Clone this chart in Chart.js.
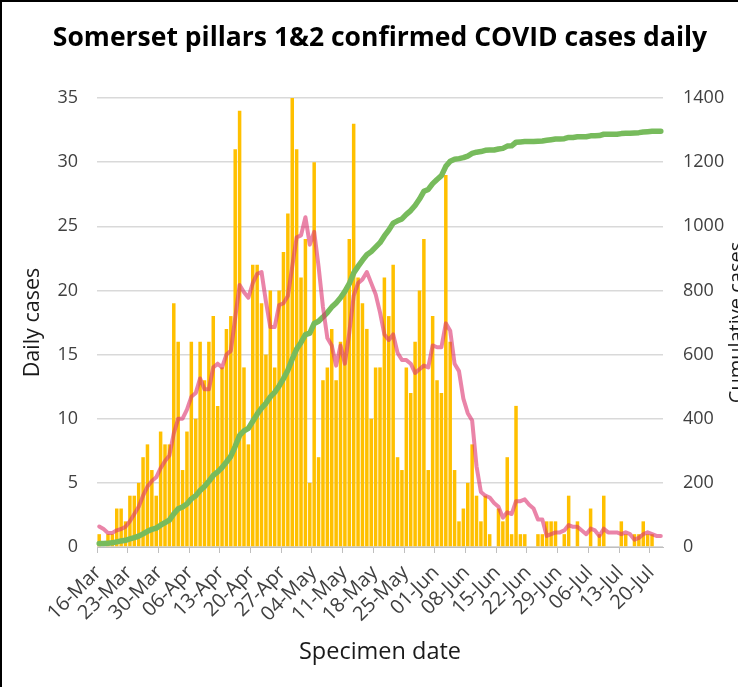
<!DOCTYPE html>
<html>
<head>
<meta charset="utf-8">
<script src="https://cdn.jsdelivr.net/npm/chart.js@4/dist/chart.umd.min.js"></script>
<style>
html,body{margin:0;padding:0;background:#fff;}
canvas{display:block;}
</style>
</head>
<body>
<canvas id="c" width="738" height="687"></canvas>
<script>
const chartTitle = 'Somerset pillars 1&2 confirmed COVID cases daily';
const xTitle = 'Specimen date';
const yTitle = 'Daily cases';
const y2Title = 'Cumulative cases';

const categories = [
'16-Mar','17-Mar','18-Mar','19-Mar','20-Mar','21-Mar','22-Mar','23-Mar','24-Mar','25-Mar','26-Mar','27-Mar','28-Mar','29-Mar','30-Mar','31-Mar',
'01-Apr','02-Apr','03-Apr','04-Apr','05-Apr','06-Apr','07-Apr','08-Apr','09-Apr','10-Apr','11-Apr','12-Apr','13-Apr','14-Apr','15-Apr','16-Apr','17-Apr','18-Apr','19-Apr','20-Apr','21-Apr','22-Apr','23-Apr','24-Apr','25-Apr','26-Apr','27-Apr','28-Apr','29-Apr','30-Apr',
'01-May','02-May','03-May','04-May','05-May','06-May','07-May','08-May','09-May','10-May','11-May','12-May','13-May','14-May','15-May','16-May','17-May','18-May','19-May','20-May','21-May','22-May','23-May','24-May','25-May','26-May','27-May','28-May','29-May','30-May','31-May',
'01-Jun','02-Jun','03-Jun','04-Jun','05-Jun','06-Jun','07-Jun','08-Jun','09-Jun','10-Jun','11-Jun','12-Jun','13-Jun','14-Jun','15-Jun','16-Jun','17-Jun','18-Jun','19-Jun','20-Jun','21-Jun','22-Jun','23-Jun','24-Jun','25-Jun','26-Jun','27-Jun','28-Jun','29-Jun','30-Jun',
'01-Jul','02-Jul','03-Jul','04-Jul','05-Jul','06-Jul','07-Jul','08-Jul','09-Jul','10-Jul','11-Jul','12-Jul','13-Jul','14-Jul','15-Jul','16-Jul','17-Jul','18-Jul','19-Jul','20-Jul','21-Jul','22-Jul'
];

const tickLabels = ['16-Mar','23-Mar','30-Mar','06-Apr','13-Apr','20-Apr','27-Apr','04-May','11-May','18-May','25-May','01-Jun','08-Jun','15-Jun','22-Jun','29-Jun','06-Jul','13-Jul','20-Jul'];

const dailyCases = [
1,0,1,1,3,3,2,4,4,5,
7,8,6,4,9,8,8,19,16,6,
9,16,10,16,13,16,18,11,14,17,
18,31,34,14,8,22,22,19,15,20,
14,20,23,26,35,31,21,24,5,30,
7,13,14,17,13,16,20,24,33,21,
19,17,10,14,14,21,18,22,7,6,
14,12,16,20,24,6,18,13,12,29,
16,6,2,3,5,8,4,2,4,1,
0,3,2,7,1,11,1,1,0,0,
1,1,2,2,2,0,1,4,0,2,
0,0,3,0,1,4,0,0,0,2,
1,0,1,1,2,1,1,0,0
];

const sevenDayAverage = [
1.6,1.4,1.1,1.1,1.3,1.4,1.57,2.0,2.57,3.14,
4.0,4.71,5.14,5.43,6.14,6.71,7.14,8.86,10.0,10.0,
10.71,11.71,12.0,13.14,12.29,12.29,14.0,14.29,14.0,15.0,
15.29,17.86,20.43,19.86,19.43,20.57,21.29,21.43,19.14,17.14,
17.14,18.86,19.0,19.57,21.86,24.14,24.29,25.71,23.57,24.57,
21.86,18.71,16.29,15.71,14.14,15.71,14.29,16.71,19.57,20.57,
20.86,21.43,20.57,19.71,18.29,16.57,16.14,16.57,15.14,14.57,
14.57,14.29,13.57,13.86,14.14,14.0,15.71,15.57,15.57,17.43,
16.86,14.29,13.71,11.57,10.43,9.86,6.29,4.29,4.0,3.86,
3.43,3.14,2.29,2.71,2.57,3.57,3.57,3.71,3.29,3.0,
2.14,2.14,0.86,1.0,1.14,1.14,1.29,1.71,1.57,1.57,
1.29,1.0,1.43,1.29,0.86,1.43,1.14,1.14,1.14,1.0,
1.14,1.0,0.57,0.71,1.0,1.14,1.0,0.86,0.86
];

const cumulativeCases = [
11,11,12,13,16,19,21,25,29,34,
41,49,55,59,68,76,84,103,119,125,
134,150,160,176,189,205,223,234,248,265,
283,314,348,362,370,392,414,433,448,468,
482,502,525,551,586,617,638,662,667,697,
704,717,731,748,761,777,797,821,854,875,
894,911,921,935,949,970,988,1010,1017,1023,
1037,1049,1065,1085,1109,1115,1133,1146,1158,1187,
1203,1209,1211,1214,1219,1227,1231,1233,1237,1238,
1238,1241,1243,1250,1251,1262,1263,1264,1264,1264,
1265,1266,1268,1270,1272,1272,1273,1277,1277,1279,
1279,1279,1282,1282,1283,1287,1287,1287,1287,1289,
1290,1290,1291,1292,1294,1295,1296,1296,1296
];

const FONT = "'Open Sans', 'Noto Sans', sans-serif";
const TICK_COLOR = '#404040';

const textPlugin = {
  id: 'texts',
  afterDraw(chart) {
    const c = chart.ctx;
    const area = chart.chartArea;
    c.save();
    // frame
    c.strokeStyle = '#000';
    c.lineWidth = 2;
    c.beginPath();
    c.moveTo(1, 687); c.lineTo(1, 1); c.lineTo(738, 1);
    c.stroke();
    // chart title
    c.fillStyle = '#000';
    c.font = "bold 26.5px " + FONT;
    c.textAlign = 'center';
    c.textBaseline = 'middle';
    c.fillText(chartTitle, (area.left + area.right) / 2, 38);
    // x title
    c.fillStyle = '#1a1a1a';
    c.font = "23.5px " + FONT;
    c.fillText(xTitle, (area.left + area.right) / 2, 652);
    // left y title
    c.font = "21.5px " + FONT;
    c.save();
    c.translate(33, (area.top + area.bottom) / 2);
    c.rotate(-Math.PI / 2);
    c.fillText(yTitle, 0, 0);
    c.restore();
    // right y title
    c.font = "20px " + FONT;
    c.save();
    c.translate(737, (area.top + area.bottom) / 2);
    c.rotate(-Math.PI / 2);
    c.fillText(y2Title, 0, 0);
    c.restore();
    c.restore();
  }
};

const weeklyTick = (ctx) => (ctx.index !== undefined && ctx.index % 7 === 0) ? '#bfbfbf' : 'rgba(0,0,0,0)';

new Chart(document.getElementById('c'), {
  data: {
    labels: categories,
    datasets: [
      {
        type: 'line', label: '7-day average', data: sevenDayAverage, yAxisID: 'y',
        borderColor: 'rgba(220,50,110,0.6)', borderWidth: 4, pointRadius: 0,
        tension: 0, order: 1, borderJoinStyle: 'round', borderCapStyle: 'round'
      },
      {
        type: 'line', label: 'Cumulative cases', data: cumulativeCases, yAxisID: 'y1',
        borderColor: '#77bb5c', borderWidth: 5.5, pointRadius: 0,
        tension: 0, order: 2, borderJoinStyle: 'round', borderCapStyle: 'round'
      },
      {
        type: 'bar', label: 'Daily cases', data: dailyCases, yAxisID: 'y',
        backgroundColor: '#FFC000', barPercentage: 0.8, categoryPercentage: 1, order: 3
      }
    ]
  },
  options: {
    responsive: false,
    animation: false,
    devicePixelRatio: 1,
    layout: { padding: { top: 98, left: 0, right: 0, bottom: 0 } },
    plugins: { legend: { display: false }, tooltip: { enabled: false }, title: { display: false } },
    scales: {
      x: {
        type: 'category',
        offset: true,
        grid: { offset: true, drawOnChartArea: false, drawTicks: true, tickLength: 6, color: weeklyTick, tickColor: weeklyTick, lineWidth: 1 },
        border: { display: true, color: '#bfbfbf', width: 1 },
        ticks: {
          autoSkip: false, maxRotation: 45, minRotation: 45, padding: 8, labelOffset: -1,
          color: TICK_COLOR, font: { family: FONT, size: 20 },
          callback: function (value, index) {
            const lbl = categories[index];
            return tickLabels.includes(lbl) ? lbl : '';
          }
        },
        afterFit: (s) => { s.height = 140; }
      },
      y: {
        position: 'left', min: 0, max: 35,
        ticks: { stepSize: 5, padding: 19, color: TICK_COLOR, font: { family: FONT, size: 18 } },
        grid: { color: '#d9d9d9', lineWidth: 1.5, drawTicks: false },
        border: { display: false },
        afterFit: (s) => { s.width = 97; }
      },
      y1: {
        position: 'right', min: 0, max: 1400,
        ticks: { stepSize: 200, padding: 20, color: TICK_COLOR, font: { family: FONT, size: 18 },
          callback: (v) => String(v) },
        grid: { display: false, drawTicks: false },
        border: { display: false },
        afterFit: (s) => { s.width = 75; }
      }
    }
  },
  plugins: [textPlugin]
});
</script>
</body>
</html>
